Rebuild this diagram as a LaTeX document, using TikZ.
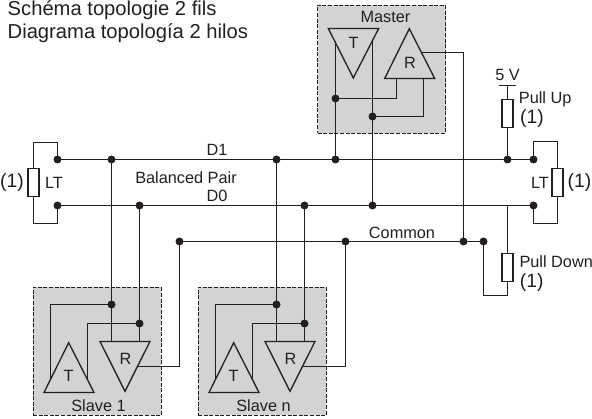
\documentclass[tikz,border=0pt]{standalone}
\usepackage{fontspec}
\setmainfont{Liberation Sans}
\definecolor{ink}{HTML}{231F20}
\definecolor{boxgray}{HTML}{D1D3D4}
\tikzset{
  wire/.style={draw=ink,line width=1.3pt,line join=miter},
  dot/.style={circle,fill=ink,draw=none,minimum size=8pt,inner sep=0pt},
  res/.style={rectangle,draw=ink,line width=1.3pt,minimum width=11pt,minimum height=28pt,inner sep=0pt},
  unit/.style={rectangle,fill=boxgray,draw=ink,line width=.8pt,dash pattern=on 4pt off 1.6pt,inner sep=0pt,minimum width=128pt,minimum height=128pt},
  lab/.style={font=\fontsize{16.3}{16.3}\selectfont,text=ink,inner sep=0pt},
  bigl/.style={font=\fontsize{19.3}{19.3}\selectfont,text=ink,inner sep=0pt},
  title/.style={font=\fontsize{20.2}{20.2}\selectfont,text=ink,inner sep=0pt,anchor=base west},
}
\newcommand{\slaveunit}[1]{%
  \node[unit] (box) at (97,351.5) {};
  \coordinate (tA) at (68.7,342.7); \coordinate (tL) at (44,392.5); \coordinate (tR) at (94,392.5);
  \coordinate (rL) at (100,341.5); \coordinate (rR) at (150,341.5); \coordinate (rA) at (125,391.3);
  \draw[wire] (tA)--(tL)--(tR)--cycle;
  \draw[wire] (rL)--(rR)--(rA)--cycle;
  \coordinate (tw1) at (50.5,379.5); \coordinate (tw2) at (87.5,379);
  \coordinate (rw1) at (111.5,341.5); \coordinate (rw2) at (139.5,341.5);
  \coordinate (ro) at (137.5,366.5);
  \node[dot] (j1) at (111.5,304.5) {};
  \node[dot] (j2) at (139.5,323.5) {};
  \draw[wire] (j1.center) -| (tw1);
  \draw[wire] (j2.center) -| (tw2);
  \draw[wire] (j1.center) -- (rw1);
  \draw[wire] (j2.center) -- (rw2);
  \node[lab] (tl) at (68.5,375.5) {T};
  \node[lab] (rl) at (125.5,358.5) {R};
  \node[lab] (sl) at (98.5,405.5) {#1};
}
\begin{document}
\begin{tikzpicture}[x=1pt,y=-1pt]
\useasboundingbox (0,0) rectangle (592,419);
% titles
\node[title] (t1) at (7.5,16) {Schéma topologie 2 fils};
\node[title] (t2) at (7.5,38.3) {Diagrama topología 2 hilos};
% master
\node[unit] (mbox) at (381.5,69) {};
\node[lab] (mlab) at (385.5,16.5) {Master};
\coordinate (mtL) at (328.3,28.5); \coordinate (mtR) at (378.7,28.5); \coordinate (mtA) at (353.3,78);
\coordinate (mrA) at (409.3,28.7); \coordinate (mrL) at (384.7,78.5); \coordinate (mrR) at (434.7,78.5);
\draw[wire] (mtL)--(mtR)--(mtA)--cycle;
\draw[wire] (mrA)--(mrL)--(mrR)--cycle;
\node[lab] (mtt) at (353.5,42.5) {T};
\node[lab] (mrr) at (410,63) {R};
% slaves
\begin{scope}[name prefix=a-]
\slaveunit{Slave 1}
\end{scope}
\begin{scope}[shift={(165,0)},name prefix=b-]
\slaveunit{Slave n}
\end{scope}
% bus dots
\node[dot] (d1l) at (57.5,159.5) {};
\node[dot] (d1a) at (111.5,159.5) {};
\node[dot] (d1b) at (276.5,159.5) {};
\node[dot] (d1m) at (335.5,159.5) {};
\node[dot] (d1u) at (507.5,159.5) {};
\node[dot] (d1r) at (533.5,159.5) {};
\node[dot] (d0l) at (57.5,205.5) {};
\node[dot] (d0a) at (139.5,205.5) {};
\node[dot] (d0b) at (304.5,205.5) {};
\node[dot] (d0m) at (372.5,205.5) {};
\node[dot] (d0r) at (533.5,205.5) {};
\coordinate (d0p) at (507.5,205.5);
\node[dot] (cl) at (179.5,241.5) {};
\node[dot] (cb) at (345.5,241.5) {};
\node[dot] (cm) at (463.5,241.5) {};
\node[dot] (cr) at (483.5,241.5) {};
\draw[wire] (d1l.center) -- (d1r.center);
\draw[wire] (d0l.center) -- (d0r.center);
\draw[wire] (cl.center) -- (cr.center);
% slave drops
\draw[wire] (d1a.center) -- (a-j1.center);
\draw[wire] (d0a.center) -- (a-j2.center);
\draw[wire] (d1b.center) -- (b-j1.center);
\draw[wire] (d0b.center) -- (b-j2.center);
\draw[wire] (a-ro) -| (cl.center);
\draw[wire] (b-ro) -| (cb.center);
% master wiring
\coordinate (mtw1) at (335.5,41.4); \coordinate (mtw2) at (372.5,41.2);
\node[dot] (mj1) at (335.5,98.5) {};
\node[dot] (mj2) at (372.5,116.5) {};
\coordinate (mri1) at (396.5,78.5); \coordinate (mri2) at (423.5,78.5);
\coordinate (mro) at (421.8,52.5);
\draw[wire] (mtw1) -- (mj1.center) -- (d1m.center);
\draw[wire] (mtw2) -- (mj2.center) -- (d0m.center);
\draw[wire] (mj1.center) -| (mri1);
\draw[wire] (mj2.center) -| (mri2);
\draw[wire] (mro) -| (cm.center);
% left terminator
\node[res] (ltl) at (33.5,182.5) {};
\coordinate (ltlt) at (33.5,142.5); \coordinate (ltlb) at (33.5,223.5);
\draw[wire] (ltl.north) -- (ltlt) -| (d1l.center);
\draw[wire] (ltl.south) -- (ltlb) -| (d0l.center);
\node[bigl] (p1l) at (12,183) {(1)};
\node[lab] (ltll) at (54,182.5) {LT};
% right terminator
\node[res] (ltr) at (557.5,182.5) {};
\coordinate (ltrt) at (557.5,141.5); \coordinate (ltrb) at (557.5,223.5);
\draw[wire] (ltr.north) -- (ltrt) -| (d1r.center);
\draw[wire] (ltr.south) -- (ltrb) -| (d0r.center);
\node[bigl] (p1r) at (579.5,183) {(1)};
\node[lab] (ltrl) at (540,182.5) {LT};
% pull up
\coordinate (vt) at (507.5,85.5); \coordinate (vl) at (499.3,85.5); \coordinate (vr) at (516,85.5);
\draw[wire] (vl) -- (vr);
\node[res] (ru) at (507.5,113.5) {};
\draw[wire] (vt) -- (ru.north);
\draw[wire] (ru.south) -- (d1u.center);
\node[lab] (v5) at (507.5,74.5) {5 V};
\node[lab,anchor=west] (pu) at (518.7,99.5) {Pull Up};
\node[bigl,anchor=west] (pu1) at (520,118.5) {(1)};
% pull down
\node[res] (rd) at (507.5,267.5) {};
\coordinate (rdb) at (507.5,295.5);
\draw[wire] (d0p) -- (rd.north);
\draw[wire] (rd.south) -- (rdb) -| (cr.center);
\node[lab,anchor=west] (pd) at (519.3,262) {Pull Down};
\node[bigl,anchor=west] (pd1) at (519.7,283) {(1)};
% bus labels
\node[lab] (ld1) at (217,150) {D1};
\node[lab] (lbp) at (186,177.5) {Balanced Pair};
\node[lab] (ld0) at (217,195.5) {D0};
\node[lab] (lco) at (402,233) {Common};
\end{tikzpicture}
\end{document}
